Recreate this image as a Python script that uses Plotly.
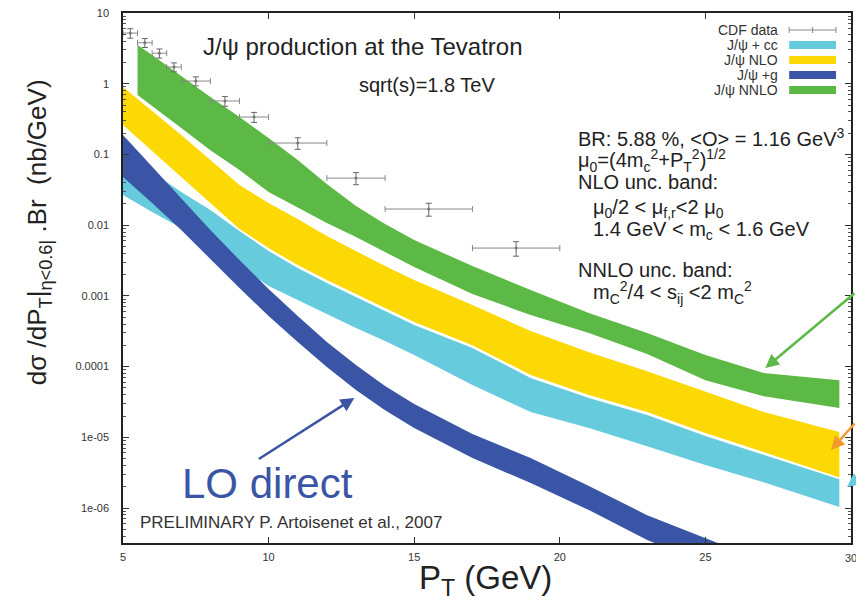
import math
import plotly.graph_objects as go

# ---------------- data ----------------
# CDF data points
cdf_pt = [5.25, 5.75, 6.25, 6.75, 7.5, 8.5, 9.5, 11.0, 13.0, 15.5, 18.5]
cdf_pt_halfwidth = [0.25, 0.25, 0.25, 0.25, 0.5, 0.5, 0.5, 1.0, 1.0, 1.5, 1.5]
cdf_xsec = [5.2, 3.8, 2.7, 1.72, 1.09, 0.57, 0.338, 0.145, 0.0463, 0.0169, 0.00474]
cdf_err = [0.8, 0.55, 0.4, 0.25, 0.16, 0.09, 0.055, 0.027, 0.009, 0.0035, 0.0011]

# pT grid of theory bands
pt_grid = [5, 6, 7, 8, 9, 10, 11, 12, 13, 14, 15, 17, 19, 21, 23, 25, 27, 29.6]
pt_grid_nnlo = [5.5, 6, 7, 8, 9, 10, 11, 12, 13, 14, 15, 17, 19, 21, 23, 25, 27, 29.6]

# J/psi NNLO (green)
nnlo_hi = [3.52, 2.55, 1.285, 0.649, 0.338, 0.1706, 0.0833, 0.0381, 0.01864, 0.01037, 0.00616,
           0.00264, 0.00121, 0.000571, 0.000298, 0.000146, 8.1e-5, 6.4e-5]
nnlo_lo = [0.692, 0.484, 0.236, 0.115, 0.0601, 0.0294, 0.0175, 0.0107, 0.00679, 0.00417, 0.00255,
           0.00106, 0.000535, 0.000298, 0.000150, 6.4e-5, 3.8e-5, 2.6e-5]

# J/psi NLO (yellow)
nlo_hi = [0.898, 0.411, 0.188, 0.0834, 0.0369, 0.0206, 0.0122, 0.00702, 0.00431, 0.00264, 0.00167,
          0.000741, 0.000318, 0.000160, 8.6e-5, 4.4e-5, 2.27e-5, 1.19e-5]
nlo_lo = [0.261, 0.112, 0.0479, 0.0206, 0.00881, 0.00474, 0.00273, 0.00167, 0.00106, 0.000671, 0.000426,
          0.000201, 7.6e-5, 3.95e-5, 2.27e-5, 1.15e-5, 6.2e-6, 2.7e-6]

# J/psi + cc (cyan)
cc_hi = [0.115, 0.0564, 0.0294, 0.0164, 0.00826, 0.00431, 0.00247, 0.00152, 0.000962, 0.000610, 0.000386,
         0.000183, 6.9e-5, 3.58e-5, 2.06e-5, 1.04e-5, 5.6e-6, 2.56e-6]
cc_lo = [0.0267, 0.0153, 0.0091, 0.00524, 0.00264, 0.00138, 0.000873, 0.000553, 0.000351, 0.000230, 0.000146,
         5.5e-5, 2.27e-5, 1.35e-5, 7.5e-6, 4.05e-6, 2.32e-6, 1.03e-6]

# J/psi + g, LO direct (blue)
lo_hi = [0.188, 0.0663, 0.0242, 0.00853, 0.00321, 0.00125, 0.000518, 0.000222, 0.000105, 5.30e-5, 2.95e-5,
         1.11e-5, 5.08e-6, 2.04e-6, 7.93e-7, 3.75e-7, 1.77e-7, 6.7e-8]
lo_lo = [0.0479, 0.0205, 0.00853, 0.00332, 0.00129, 0.000518, 0.000222, 9.84e-5, 4.65e-5, 2.42e-5, 1.35e-5,
         5.08e-6, 2.25e-6, 9.34e-7, 3.52e-7, 1.66e-7, 7.6e-8, 2.86e-8]

x_ticks = [5, 10, 15, 20, 25, 30]
y_tickvals = [10, 1, 0.1, 0.01, 0.001, 0.0001, 1e-05, 1e-06]
y_ticktext = ["10", "1", "0.1", "0.01", "0.001", "0.0001", "1e-05", "1e-06"]

legend_labels = ["CDF data", "J/\u03c8 + cc", "J/\u03c8 NLO", "J/\u03c8 +g", "J/\u03c8 NNLO"]

# ---------------- style ----------------
C_GREEN = "#5cb946"
C_YELLOW = "#fcd805"
C_CYAN = "#66cbdc"
C_BLUE = "#3a55a5"
C_ORANGE = "#f39a2b"
FONT = "Liberation Sans, Arial, sans-serif"

# plot area in pixels
L_PX, R_PX, T_PX, B_PX = 123, 853, 13, 543


def pxx(v):
    return (v - L_PX) / (R_PX - L_PX)


def pxy(v):
    return (B_PX - v) / (B_PX - T_PX)


def band(x, hi, lo, color):
    return go.Scatter(x=list(x) + list(x)[::-1], y=list(hi) + list(lo)[::-1],
                      fill="toself", fillcolor=color, mode="lines",
                      line=dict(width=0, color=color), hoverinfo="skip", showlegend=False)


fig = go.Figure()
fig.add_trace(band(pt_grid_nnlo, nnlo_hi, nnlo_lo, C_GREEN))
fig.add_trace(band(pt_grid, nlo_hi, nlo_lo, C_YELLOW))
fig.add_trace(band(pt_grid, cc_hi, cc_lo, C_CYAN))
fig.add_trace(band(pt_grid, lo_hi, lo_lo, C_BLUE))

fig.add_trace(go.Scatter(
    x=cdf_pt, y=cdf_xsec, mode="markers",
    marker=dict(size=3, color="#777"),
    error_x=dict(type="data", array=cdf_pt_halfwidth, color="#888", thickness=1, width=3),
    error_y=dict(type="data", array=cdf_err, color="#666", thickness=1, width=3),
    showlegend=False, hoverinfo="skip"))

fig.update_layout(
    width=856, height=603,
    margin=dict(l=L_PX, r=856 - R_PX, t=T_PX, b=603 - B_PX),
    paper_bgcolor="white", plot_bgcolor="white",
    font=dict(family=FONT, color="#222"),
    showlegend=False,
)
fig.update_xaxes(
    range=[5, 30], tickvals=x_ticks, ticks="inside", ticklen=6, tickwidth=1, tickcolor="#333",
    showline=True, linecolor="#222", linewidth=1.5, mirror="ticks", showgrid=False, zeroline=False,
    tickfont=dict(size=11, color="#333", family=FONT), ticklabelstandoff=3,
)
fig.update_yaxes(
    type="log", range=[math.log10(3.2e-7), 1], tickvals=y_tickvals, ticktext=y_ticktext,
    ticks="inside", ticklen=6, tickwidth=1, tickcolor="#333",
    minor=dict(ticks="inside", ticklen=3, tickcolor="#555", dtick="D1", showgrid=False),
    showline=True, linecolor="#222", linewidth=1.5, mirror="ticks", showgrid=False, zeroline=False,
    tickfont=dict(size=11, color="#333", family=FONT), ticklabelstandoff=10,
)

ann = []


def text(s, x, y, size, color="#222", xanchor="center", yanchor="middle", angle=0):
    ann.append(dict(text=s, x=pxx(x), y=pxy(y), xref="paper", yref="paper", showarrow=False,
                    xanchor=xanchor, yanchor=yanchor, textangle=angle,
                    font=dict(size=size, color=color, family=FONT)))


text("J/\u03c8 production at the Tevatron", 364, 47, 24)
text("sqrt(s)=1.8 TeV", 428, 85, 20)

bx, bi = 577, 592
text("BR: 5.88 %, &lt;O&gt; = 1.16 GeV<sup>3</sup>", bx, 138, 20, xanchor="left")
text("\u03bc<sub>0</sub>=(4m<sub>c</sub><sup>2</sup>+P<sub>T</sub><sup>2</sup>)<sup>1/2</sup>", bx, 160, 20, xanchor="left")
text("NLO unc. band:", bx, 182, 20, xanchor="left")
text("\u03bc<sub>0</sub>/2 &lt; \u03bc<sub>f,r</sub>&lt;2 \u03bc<sub>0</sub>", bi, 208, 20, xanchor="left")
text("1.4 GeV &lt; m<sub>c</sub> &lt; 1.6 GeV", bi, 230, 20, xanchor="left")
text("NNLO unc. band:", bx, 270, 20, xanchor="left")
text("m<sub>C</sub><sup>2</sup>/4 &lt; s<sub>ij</sub> &lt;2 m<sub>C</sub><sup>2</sup>", bi, 292, 20, xanchor="left")

text("LO direct", 268, 483, 42, color=C_BLUE)
text("PRELIMINARY P. Artoisenet et al., 2007", 138, 522, 17, color="#333", xanchor="left")

text("d\u03c3 /dP<sub>T</sub>|<sub>\u03b7&lt;0.6|</sub> .Br  (nb/GeV)", 38, 232, 26, angle=-90)
text("P<sub>T</sub> (GeV)", 486, 580, 33)
text("30", 853, 558, 11, color="#333")

# legend (text left of swatch)
leg_rows = [30, 45, 60, 75, 90]
leg_colors = [None, C_CYAN, C_YELLOW, C_BLUE, C_GREEN]
shapes = []
for lab, row, col in zip(legend_labels, leg_rows, leg_colors):
    text(lab, 782, row, 14, color="#333", xanchor="right")
    if col is None:
        shapes.append(dict(type="line", xref="paper", yref="paper", x0=pxx(791), x1=pxx(838),
                           y0=pxy(row), y1=pxy(row), line=dict(color="#888", width=1)))
        for xe in (791, 814.5, 838):
            shapes.append(dict(type="line", xref="paper", yref="paper", x0=pxx(xe), x1=pxx(xe),
                               y0=pxy(row - 3), y1=pxy(row + 3), line=dict(color="#888", width=1)))
    else:
        shapes.append(dict(type="rect", xref="paper", yref="paper", x0=pxx(791), x1=pxx(838),
                           y0=pxy(row + 4), y1=pxy(row - 4), fillcolor=col, line=dict(width=0)))


def arrow(hx, hy, tx, ty, color, width=2.5):
    ann.append(dict(text="", x=pxx(hx), y=pxy(hy), xref="paper", yref="paper", showarrow=True,
                    ax=tx - hx, ay=ty - hy, axref="pixel", ayref="pixel",
                    arrowhead=2, arrowsize=1.1, arrowwidth=width, arrowcolor=color))


arrow(355, 398, 258, 460, C_BLUE)
arrow(767, 368, 858, 292, C_GREEN)
arrow(833, 450, 866, 422, C_ORANGE)
arrow(849, 487, 892, 480, C_CYAN)

fig.update_layout(annotations=ann, shapes=shapes)
fig.write_html("out.html")
